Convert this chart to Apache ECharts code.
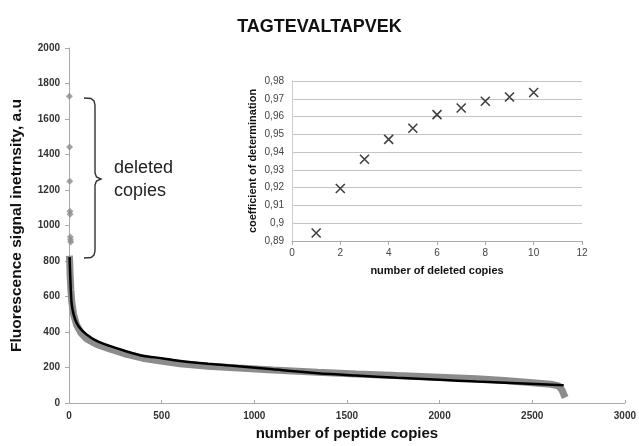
<!DOCTYPE html>
<html>
<head>
<meta charset="utf-8">
<script src="https://cdn.jsdelivr.net/npm/echarts@6/dist/echarts.min.js"></script>
<style>
  html, body { margin: 0; padding: 0; background: #fff; }
  #chart { width: 639px; height: 446px; }
</style>
</head>
<body>
<div id="chart"></div>
<script>
const copyX = [2, 4, 6, 10, 15, 25, 41, 65, 95, 150, 219, 300, 397, 487, 600, 750, 914, 1100, 1342, 1550, 1770, 2000, 2198, 2350, 2501, 2600, 2640, 2660, 2670, 2678]
const copyY = [830, 790, 720, 640, 570, 500, 440, 395, 362, 330, 305, 278, 253, 239, 222, 208, 198, 187, 174, 164, 155, 146, 137, 127, 115, 106, 98, 75, 50, 32]
// the copies taken out before the fit
const deletedX = [2, 3, 4, 5, 6, 7, 8, 9]
const deletedY = [1728, 1443, 1250, 1080, 1063, 935, 920, 907]
// fitted curve (black)
const fitX = [3, 8, 14, 25, 41, 65, 95, 150, 219, 300, 397, 500, 590, 750, 914, 1100, 1342, 1550, 1770, 2000, 2200, 2450, 2670]
const fitY = [822, 680, 563, 500, 452, 415, 387, 350, 322, 295, 267, 253, 239, 222, 208, 190, 168, 155, 143, 131, 121, 110, 100]
// inset: R^2 vs number of deleted copies
const nDeleted = [1, 2, 3, 4, 5, 6, 7, 8, 9, 10]
const r2 = [0.8945, 0.9195, 0.936, 0.9472, 0.9534, 0.9611, 0.9648, 0.9686, 0.971, 0.9735]

const pairs = (xs, ys) => xs.map((x, i) => [x, ys[i]])
const FONT = 'Liberation Sans, Arial, sans-serif'

const chart = echarts.init(document.getElementById('chart'))

const option = {
  animation: false,
  title: {
    text: 'TAGTEVALTAPVEK',
    left: 'center',
    top: 13,
    textStyle: { fontFamily: FONT, fontSize: 18, fontWeight: 'bold', color: '#111' }
  },
  grid: [
    { left: 69, right: 9, top: 48, bottom: 38 },
    { left: 292, right: 57, top: 81, bottom: 205 }
  ],
  xAxis: [
    {
      gridIndex: 0,
      type: 'value',
      min: 0, max: 3000, interval: 500,
      name: 'number of peptide copies',
      nameLocation: 'middle',
      nameGap: 22,
      nameTextStyle: { fontFamily: FONT, fontSize: 15, fontWeight: 'bold', color: '#111' },
      axisLine: { lineStyle: { color: '#aaa', width: 1 } },
      axisTick: { show: true, inside: true, length: 3, lineStyle: { color: '#aaa' } },
      axisLabel: { fontFamily: FONT, fontSize: 10, fontWeight: 'bold', color: '#333', margin: 8, formatter: v => String(v) },
      splitLine: { show: false }
    },
    {
      gridIndex: 1,
      type: 'value',
      min: 0, max: 12, interval: 2,
      name: 'number of deleted copies',
      nameLocation: 'middle',
      nameGap: 24,
      nameTextStyle: { fontFamily: FONT, fontSize: 11, fontWeight: 'bold', color: '#111' },
      axisLine: { lineStyle: { color: '#aaa', width: 1 } },
      axisTick: { show: true, length: 4, lineStyle: { color: '#aaa' } },
      axisLabel: { fontFamily: FONT, fontSize: 10, color: '#444', margin: 7 },
      splitLine: { show: false }
    }
  ],
  yAxis: [
    {
      gridIndex: 0,
      type: 'value',
      min: 0, max: 2000, interval: 200,
      name: 'Fluorescence signal inetrnsity, a.u',
      nameLocation: 'middle',
      nameGap: 44,
      nameTextStyle: { fontFamily: FONT, fontSize: 15.5, fontWeight: 'bold', color: '#111' },
      axisLine: { show: true, lineStyle: { color: '#aaa', width: 1 } },
      axisTick: { show: true, length: 4, lineStyle: { color: '#aaa' } },
      axisLabel: { fontFamily: FONT, fontSize: 10, fontWeight: 'bold', color: '#333', margin: 9, formatter: v => String(v) },
      splitLine: { show: false }
    },
    {
      gridIndex: 1,
      type: 'value',
      min: 0.89, max: 0.98, interval: 0.01,
      name: 'coefficient of determination',
      nameLocation: 'middle',
      nameGap: 34,
      nameTextStyle: { fontFamily: FONT, fontSize: 11, fontWeight: 'bold', color: '#111' },
      axisLine: { show: true, lineStyle: { color: '#ccc', width: 1 } },
      axisTick: { show: false },
      axisLabel: {
        fontFamily: FONT, fontSize: 10, color: '#444', margin: 8,
        formatter: v => String(Math.round(v * 100) / 100).replace('.', ',')
      },
      splitLine: { show: true, lineStyle: { color: '#c4c4c4', width: 1 } }
    }
  ],
  series: [
    {
      name: 'copies',
      type: 'line',
      xAxisIndex: 0, yAxisIndex: 0,
      data: pairs(copyX, copyY),
      showSymbol: false,
      lineStyle: { color: '#8c8c8c', width: 7 },
      z: 2
    },
    {
      name: 'deleted',
      type: 'scatter',
      xAxisIndex: 0, yAxisIndex: 0,
      data: pairs(deletedX, deletedY),
      symbol: 'diamond',
      symbolSize: 7,
      itemStyle: { color: '#8c8c8c' },
      z: 2
    },
    {
      name: 'fit',
      type: 'line',
      xAxisIndex: 0, yAxisIndex: 0,
      data: pairs(fitX, fitY),
      showSymbol: false,
      smooth: 0.3,
      lineStyle: { color: '#000', width: 2.5 },
      z: 3
    },
    {
      name: 'r2',
      type: 'scatter',
      xAxisIndex: 1, yAxisIndex: 1,
      data: pairs(nDeleted, r2),
      symbol: 'path://M0,0L10,10M10,0L0,10',
      symbolSize: 9,
      itemStyle: { color: 'none', borderColor: '#111', borderWidth: 1.6 },
      z: 4
    }
  ],
  graphic: [
    {
      type: 'polyline',
      shape: {
        points: [[84, 98], [91, 98.5], [94, 101], [95, 105], [95, 173], [96.5, 177], [101, 179],
                 [96.5, 181], [95, 185], [95, 251], [94, 255], [91, 257.5], [84, 258]]
      },
      style: { fill: 'none', stroke: '#333', lineWidth: 1.4 }
    },
    {
      type: 'text',
      left: 114, top: 157,
      style: {
        text: 'deleted\ncopies',
        fontFamily: FONT, fontSize: 18, lineHeight: 23, fill: '#222'
      }
    }
  ]
}

chart.setOption(option)
</script>
</body>
</html>
